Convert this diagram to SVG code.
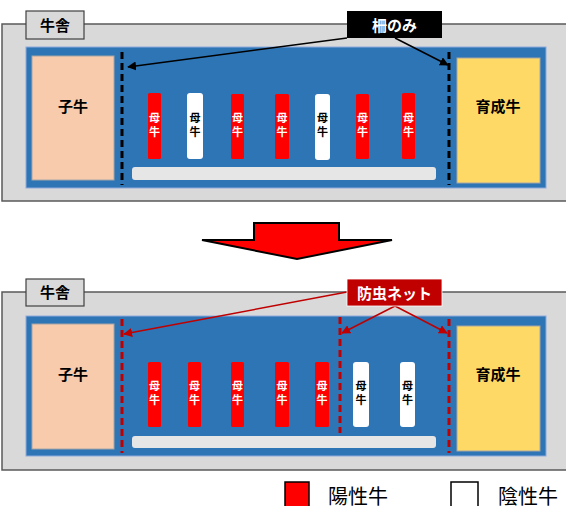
<svg xmlns="http://www.w3.org/2000/svg" width="566" height="506" viewBox="0 0 566 506">
<style>
.house{fill:#D9D9D9;stroke:#595959;stroke-width:1.5}
.tag{fill:#D9D9D9;stroke:#404040;stroke-width:1.2}
.blue{fill:#2E75B6;stroke:#8FAADC;stroke-width:1}
.calf{fill:#F8CBAD;stroke:#A6A6A6;stroke-width:1}
.young{fill:#FFD966;stroke:#A6A6A6;stroke-width:1}
.pos{fill:#FF0000}
.neg{fill:#FFFFFF}
.feed{fill:#E7E6E6}
.t{font-family:"Noto Sans CJK JP","Noto Sans CJK SC",sans-serif;font-weight:bold;text-anchor:middle}
.big{font-size:15px;fill:#000}
.v{writing-mode:vertical-rl;font-size:11px;letter-spacing:3px}
.cw{fill:#FFFFFF}
.cb{fill:#000}
.fence{stroke:#000;stroke-width:3;stroke-dasharray:7,4;fill:none}
.net{stroke:#C00000;stroke-width:3;stroke-dasharray:7,4;fill:none}
.lead{stroke:#000;stroke-width:1.5;fill:none}
.leadr{stroke:#C00000;stroke-width:1.5;fill:none}
.leg{font-family:"Noto Sans CJK JP","Noto Sans CJK SC",sans-serif;font-size:20px;fill:#000}
</style>
<defs>
<marker id="ah" viewBox="0 0 10 10" refX="9" refY="5" markerWidth="6" markerHeight="6" orient="auto"><path d="M0,0 L10,5 L0,10 z" fill="#000"/></marker>
<marker id="ahr" viewBox="0 0 10 10" refX="9" refY="5" markerWidth="6" markerHeight="6" orient="auto"><path d="M0,0 L10,5 L0,10 z" fill="#C00000"/></marker>
</defs>

<g id="top-panel">
<rect class="house" x="2" y="24" width="570" height="177"/>
<g id="top-tag"><rect class="tag" x="26" y="11" width="58" height="28"/><text class="t big" x="55" y="31">牛舎</text></g>
<rect class="blue" x="26" y="47" width="520" height="141"/>
<g id="top-calf"><rect class="calf" x="32" y="56" width="82" height="124"/><text class="t big" x="73" y="112">子牛</text></g>
<g id="top-young"><rect class="young" x="457" y="58" width="83" height="125"/><text class="t big" x="498" y="112">育成牛</text></g>
<rect class="feed" x="132" y="167" width="304" height="13" rx="3"/>
<g id="top-cows">
<rect class="pos" x="148" y="93" width="13" height="66" rx="1.5"/><text class="t v cw" x="154.5" y="126">母牛</text>
<rect class="neg" x="187" y="93" width="16" height="66" rx="3"/><text class="t v cb" x="195" y="126">母牛</text>
<rect class="pos" x="231" y="94" width="13" height="65" rx="1.5"/><text class="t v cw" x="237.5" y="126">母牛</text>
<rect class="pos" x="275" y="94" width="14" height="65" rx="1.5"/><text class="t v cw" x="282" y="126">母牛</text>
<rect class="neg" x="315" y="94" width="15" height="66" rx="3"/><text class="t v cb" x="322.5" y="126">母牛</text>
<rect class="pos" x="356" y="94" width="13" height="65" rx="1.5"/><text class="t v cw" x="362.5" y="126">母牛</text>
<rect class="pos" x="402" y="93" width="13" height="66" rx="1.5"/><text class="t v cw" x="408.5" y="126">母牛</text>
</g>
</g>

<g id="bottom-panel">
<rect class="house" x="2" y="292" width="570" height="178"/>
<g id="bottom-tag"><rect class="tag" x="26" y="279" width="58" height="27"/><text class="t big" x="55" y="298">牛舎</text></g>
<rect class="blue" x="26" y="316" width="520" height="140"/>
<g id="bottom-calf"><rect class="calf" x="32" y="324" width="82" height="125"/><text class="t big" x="73" y="380">子牛</text></g>
<g id="bottom-young"><rect class="young" x="457" y="326" width="83" height="125"/><text class="t big" x="498" y="380">育成牛</text></g>
<rect class="feed" x="132" y="436" width="304" height="12" rx="3"/>
<g id="bottom-cows">
<rect class="pos" x="148" y="362" width="13" height="65" rx="1.5"/><text class="t v cw" x="154.5" y="394">母牛</text>
<rect class="pos" x="188" y="362" width="13" height="65" rx="1.5"/><text class="t v cw" x="194.5" y="394">母牛</text>
<rect class="pos" x="231" y="362" width="13" height="65" rx="1.5"/><text class="t v cw" x="237.5" y="394">母牛</text>
<rect class="pos" x="275" y="362" width="14" height="65" rx="1.5"/><text class="t v cw" x="282" y="394">母牛</text>
<rect class="pos" x="315" y="362" width="14" height="65" rx="1.5"/><text class="t v cw" x="322" y="394">母牛</text>
<rect class="neg" x="353" y="362" width="16" height="65" rx="3"/><text class="t v cb" x="361" y="394">母牛</text>
<rect class="neg" x="400" y="362" width="15" height="65" rx="3"/><text class="t v cb" x="407.5" y="394">母牛</text>
</g>
</g>

<g id="transition-arrow">
<path d="M254,223 L339,223 L339,240 L392,240 L297,259 L202,240 L254,240 Z" fill="#FF0000" stroke="#000" stroke-width="2" stroke-linejoin="miter"/>
</g>

<g id="connectors">
<line class="fence" x1="122" y1="52" x2="122" y2="185"/>
<line class="fence" x1="449" y1="52" x2="449" y2="185"/>
<line class="lead" x1="347" y1="38" x2="128" y2="67" marker-end="url(#ah)"/>
<line class="lead" x1="395" y1="38" x2="448" y2="65" marker-end="url(#ah)"/>
<line class="net" x1="122" y1="319" x2="122" y2="453"/>
<line class="net" x1="340" y1="317" x2="340" y2="433"/>
<line class="net" x1="449" y1="319" x2="449" y2="453"/>
<line class="leadr" x1="347" y1="292" x2="124" y2="334" marker-end="url(#ahr)"/>
<line class="leadr" x1="395" y1="306" x2="342" y2="333" marker-end="url(#ahr)"/>
<line class="leadr" x1="395" y1="306" x2="447" y2="333" marker-end="url(#ahr)"/>
</g>

<g id="label-fence"><rect x="347" y="11" width="95" height="27" fill="#000"/><text class="t" x="394.5" y="31" font-size="15" fill="#FFFFFF">柵のみ</text></g>
<g id="label-net"><rect x="347" y="279" width="95" height="27" fill="#C00000" stroke="#FFFFFF" stroke-width="0.8"/><text class="t" x="394.5" y="299" font-size="15" fill="#FFFFFF">防虫ネット</text></g>

<g id="legend">
<rect x="285" y="482" width="24" height="30" fill="#FF0000" stroke="#000" stroke-width="1.5"/>
<text class="leg" x="328" y="504">陽性牛</text>
<rect x="451" y="482" width="27" height="30" fill="#FFFFFF" stroke="#000" stroke-width="1.5"/>
<text class="leg" x="498" y="504">陰性牛</text>
</g>
</svg>
